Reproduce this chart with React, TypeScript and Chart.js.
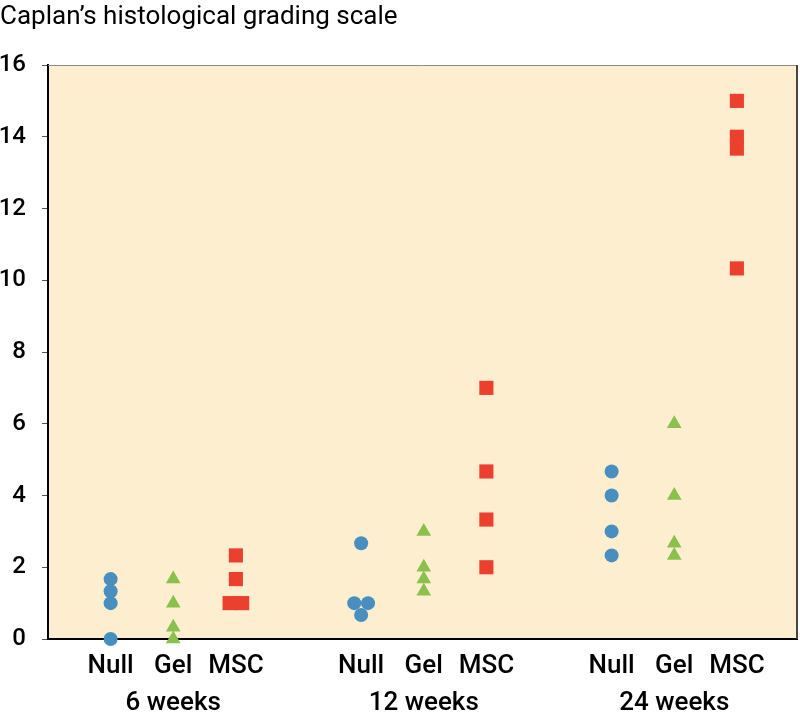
import React, { useEffect, useRef } from "react";
import { Chart, registerables } from "chart.js";

Chart.register(...registerables);

const TITLE = "Caplan’s histological grading scale";

// Group categories along the x axis
const groupLabels = ["Null", "Gel", "MSC", "Null", "Gel", "MSC", "Null", "Gel", "MSC"];
const groupPositions = [0, 1, 2, 4, 5, 6, 8, 9, 10];
const weekLabels = ["6 weeks", "12 weeks", "24 weeks"];
const weekPositions = [1, 5, 9];

// Y ticks
const yTicks = [0, 2, 4, 6, 8, 10, 12, 14, 16];

// Series values (score per animal)
const null6 = [1.67, 1.33, 1.0, 0];
const null12 = [2.67, 1.0, 1.0, 0.67];
const null24 = [4.67, 4.0, 3.0, 2.33];
const gel6 = [1.67, 1.0, 0.33, 0];
const gel12 = [3.0, 2.0, 1.67, 1.33];
const gel24 = [6.0, 4.0, 2.67, 2.33];
const msc6 = [2.33, 1.67, 1.0, 1.0];
const msc12 = [7.0, 4.67, 3.33, 2.0];
const msc24 = [15.0, 14.0, 13.67, 10.33];

// small horizontal spread for overlapping points
const null12Spread = [0, -0.11, 0.11, 0];
const msc6Spread = [0, 0, -0.1, 0.1];
const noSpread = [0, 0, 0, 0];

const FONT = 'Roboto, "Liberation Sans", Arial, Helvetica, sans-serif';
const BLUE = "rgb(72,142,190)";
const GREEN = "rgb(140,192,78)";
const RED = "rgb(236,64,46)";
const BG = "rgb(253,238,208)";

function pts(pos: number, vals: number[], spread: number[]) {
  return vals.map((v, i) => ({ x: pos + spread[i], y: v }));
}

const plotDecor = {
  id: "plotDecor",
  beforeDraw(chart: any) {
    const { ctx, chartArea: a } = chart;
    ctx.save();
    ctx.fillStyle = BG;
    ctx.fillRect(a.left, a.top, a.right - a.left, a.bottom - a.top);
    ctx.restore();
  },
  beforeDatasetsDraw(chart: any) {
    const { ctx, chartArea: a } = chart;
    ctx.save();
    ctx.strokeStyle = "#8a8a8a";
    ctx.lineWidth = 1;
    ctx.beginPath();
    ctx.moveTo(a.left, a.top + 0.5);
    ctx.lineTo(a.right, a.top + 0.5);
    ctx.stroke();
    ctx.strokeStyle = "#444";
    ctx.lineWidth = 2;
    ctx.beginPath();
    ctx.moveTo(a.right, a.top);
    ctx.lineTo(a.right, a.bottom);
    ctx.stroke();
    ctx.restore();
  },
};

const zeroPad = (s: any) => {
  s.paddingLeft = 0;
  s.paddingRight = 0;
  s.paddingTop = 0;
  s.paddingBottom = 0;
};

export default function App() {
  const ref = useRef<HTMLCanvasElement | null>(null);

  useEffect(() => {
    if (!ref.current) return;
    const mk = (data: any[], shape: string, color: string, r: number) => ({
      data,
      pointStyle: shape,
      pointRadius: r,
      pointHoverRadius: r,
      pointBackgroundColor: color,
      pointBorderColor: color,
      pointBorderWidth: 0,
      showLine: false,
      clip: false,
    });
    const chart = new Chart(ref.current, {
      type: "scatter",
      data: {
        datasets: [
          mk([...pts(groupPositions[0], null6, noSpread), ...pts(groupPositions[3], null12, null12Spread), ...pts(groupPositions[6], null24, noSpread)], "circle", BLUE, 7),
          mk([...pts(groupPositions[1], gel6, noSpread), ...pts(groupPositions[4], gel12, noSpread), ...pts(groupPositions[7], gel24, noSpread)], "triangle", GREEN, 8.5),
          mk([...pts(groupPositions[2], msc6, msc6Spread), ...pts(groupPositions[5], msc12, noSpread), ...pts(groupPositions[8], msc24, noSpread)], "rect", RED, 10),
        ] as any,
      },
      options: {
        animation: false,
        responsive: false,
        layout: { autoPadding: false, padding: { left: 0, right: 3, top: 0, bottom: 0 } },
        plugins: {
          legend: { display: false },
          tooltip: { enabled: false },
          title: {
            display: true,
            text: TITLE,
            align: "start",
            color: "#000",
            font: { family: FONT, size: 26, weight: "normal", lineHeight: 1.0 },
            padding: { top: 4, bottom: 35 },
          },
        },
        scales: {
          y: {
            min: 0,
            max: 16,
            afterFit: (s: any) => { s.width = 48; zeroPad(s); },
            afterBuildTicks: (s: any) => { s.ticks = yTicks.map((v) => ({ value: v })); },
            ticks: {
              color: "#000",
              padding: 16,
              font: { family: FONT, size: 24, weight: 500 },
            },
            grid: { display: true, drawOnChartArea: false, drawTicks: true, tickLength: 6, color: "#555" },
            border: { display: true, color: "#000", width: 2 },
          },
          x: {
            type: "linear",
            position: "bottom",
            min: -1,
            max: 10.96,
            afterFit: (s: any) => { s.height = 40; zeroPad(s); },
            afterBuildTicks: (s: any) => { s.ticks = groupPositions.map((v) => ({ value: v })); },
            ticks: {
              autoSkip: false,
              maxRotation: 0,
              color: "#000",
              padding: 12,
              font: { family: FONT, size: 26, weight: 500 },
              callback: (_v: any, i: number) => groupLabels[i],
            },
            grid: { display: false, drawTicks: false },
            border: { display: true, color: "#000", width: 2 },
          },
          x2: {
            type: "linear",
            position: "bottom",
            min: -1,
            max: 10.96,
            afterFit: (s: any) => { s.height = 34; zeroPad(s); },
            afterBuildTicks: (s: any) => { s.ticks = weekPositions.map((v) => ({ value: v })); },
            ticks: {
              autoSkip: false,
              maxRotation: 0,
              color: "#000",
              padding: 9,
              font: { family: FONT, size: 26, weight: 500 },
              callback: (_v: any, i: number) => weekLabels[i],
            },
            grid: { display: false, drawTicks: false },
            border: { display: false },
          },
        },
      } as any,
      plugins: [plotDecor],
    });
    return () => chart.destroy();
  }, []);

  return (
    <div style={{ position: "absolute", left: 0, top: 0, width: 800, height: 713, background: "#fff", overflow: "hidden" }}>
      <canvas ref={ref} width={800} height={713} style={{ display: "block" }} />
    </div>
  );
}
